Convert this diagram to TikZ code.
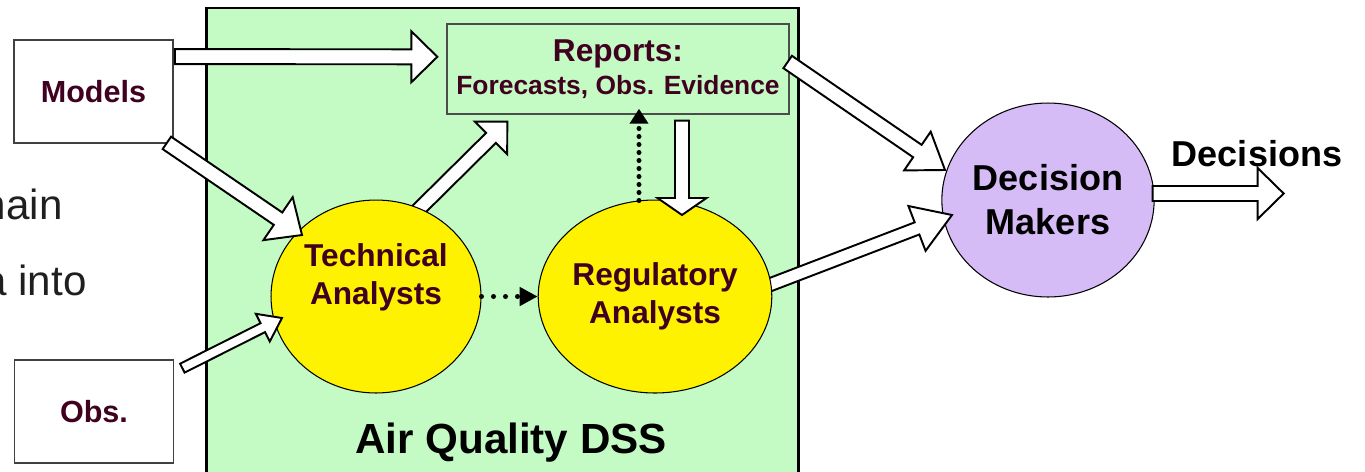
\documentclass[tikz,border=0pt]{standalone}
\usepackage{fontspec}
\setmainfont{Liberation Sans}
\usetikzlibrary{calc,arrows.meta,shapes.geometric}

\definecolor{dssgreen}{RGB}{196,250,196}
\definecolor{dmpurple}{RGB}{214,188,246}
\definecolor{txtred}{RGB}{64,0,32}

\pgfdeclarelayer{bg}
\pgfdeclarelayer{under}
\pgfsetlayers{bg,under,main}

% block arrow: from, to, half shaft, half head, head length
\newcommand{\fatarrow}[5]{%
\coordinate (fa-h) at ($(#2)!#5!(#1)$);
\draw [fatarrow] ($(#1)!#3!90:(#2)$) -- ($(fa-h)!#3!90:(#2)$) -- ($(fa-h)!#4!90:(#2)$) -- (#2)
	-- ($(fa-h)!#4!-90:(#2)$) -- ($(fa-h)!#3!-90:(#2)$) -- ($(#1)!#3!-90:(#2)$) -- cycle;
}

\begin{document}
\begin{tikzpicture}[x = 0.02cm, y = -0.02cm,
srcbox/.style={ rectangle, draw = black!75, line width = 1pt, fill = white, minimum width = 3.18cm, minimum height = 2.06cm, text = txtred, font = \fontsize{17.4}{20}\selectfont\bfseries },
analyst/.style={ ellipse, draw, line width = 0.6pt, fill = yellow, minimum height = 3.86cm, inner sep = 0pt },
analysttxt/.style={ align = center, text = txtred, font = \fontsize{18}{21.5}\selectfont\bfseries },
bigtxt/.style={ align = center, font = \fontsize{20.5}{25}\selectfont\bfseries },
fatarrow/.style={ draw, line width = 1.1pt, fill = white, line join = miter },
dotarrow/.style={ line width = 0.1cm, dash pattern = on 0pt off 0.16cm, line cap = round },
cutoff/.style={ anchor = base east, inner sep = 0pt, text = black!88, font = \fontsize{24}{28}\selectfont }]

\useasboundingbox (0,0) rectangle (1365,471);

%the DSS panel
\begin{pgfonlayer}{bg}
\node (dss) [rectangle, draw, line width = 1.3pt, fill = dssgreen, minimum width = 11.84cm, minimum height = 9.8cm, anchor = north] at (502.5,7) {};
\end{pgfonlayer}
\node (dsstitle) [font = \fontsize{24}{28}\selectfont\bfseries] at (511,443) {Air Quality DSS};

%slide text behind
\node (cut1) [cutoff] at (63,219) {nain};
\node (cut2) [cutoff] at (87,295) {a into};

\node (models) [srcbox] at (93.5,91.5) {Models};
\node (obs) [srcbox] at (94,411.5) {Obs.};

\node (reports) [rectangle, draw = black!70, line width = 0.8pt, minimum width = 6.84cm, minimum height = 1.8cm, align = center, text = txtred, font = \fontsize{18}{18.8}\selectfont\bfseries] at (618,69)
	{Reports:\\{\fontsize{15}{18.8}\selectfont Forecasts, Obs. Evidence}};

\node (tech) [analyst, minimum width = 4.2cm] at (376,296.5) {};
\node (techtxt) [analysttxt] at ($(tech)+(0,-19)$) {Technical\\Analysts};
\node (reg) [analyst, analysttxt, minimum width = 4.48cm] at (655,296.5) {Regulatory\\Analysts};

%arrows leaving the ellipses run underneath them
\begin{pgfonlayer}{under}
\node (dm) [ellipse, draw, line width = 0.6pt, fill = dmpurple, minimum width = 4.24cm, minimum height = 3.88cm, inner sep = 0pt, bigtxt] at (1048,200) {Decision\\Makers};
\coordinate (t-out) at ($(tech)+(34,-78.5)$);
\coordinate (r-in2) at ($(reports.south west)+(61,7)$);
\fatarrow{t-out}{r-in2}{0.14cm}{0.46cm}{0.46cm}
\coordinate (g-out) at ($(reg)+(100,-6)$);
\coordinate (d-in2) at ($(dm)+(-96,15)$);
\fatarrow{g-out}{d-in2}{0.13cm}{0.48cm}{0.75cm}
\end{pgfonlayer}

\node (dectxt) [bigtxt] at (1257,154) {Decisions};

%block arrows
\coordinate (m-out) at ($(models.north east)+(1,17.5)$);
\coordinate (r-in1) at ($(reports.north west)+(-9,33.5)$);
\fatarrow{m-out}{r-in1}{0.15cm}{0.51cm}{0.52cm}

\coordinate (m-out2) at ($(models.south east)+(-7,-1)$);
\coordinate (t-in1) at ($(tech)+(-74,-61.5)$);
\fatarrow{m-out2}{t-in1}{0.15cm}{0.52cm}{0.58cm}

\coordinate (o-out) at ($(obs.north east)+(8,9)$);
\coordinate (t-in2) at ($(tech)+(-94,21.5)$);
\fatarrow{o-out}{t-in2}{0.10cm}{0.31cm}{0.43cm}

\coordinate (r-out) at ($(reports.south)+(64,6)$);
\coordinate (g-in) at ($(reg)+(27,-81.5)$);
\fatarrow{r-out}{g-in}{0.14cm}{0.49cm}{0.34cm}

\coordinate (r-out2) at ($(reports.east)+(-2,-7)$);
\coordinate (d-in1) at ($(dm)+(-103,-30)$);
\fatarrow{r-out2}{d-in1}{0.15cm}{0.47cm}{0.67cm}

\coordinate (d-out) at ($(dm.east)+(-2,-6.5)$);
\coordinate (dec-end) at ($(dm.east)+(129,-6.5)$);
\fatarrow{d-out}{dec-end}{0.15cm}{0.51cm}{0.52cm}

%dotted hand-overs
\draw [dotarrow, -{Triangle[length = 0.36cm, width = 0.36cm]}, dash pattern = on 0pt off 0.24cm] (tech.east) -- (reg.west);
\draw [dotarrow, -{Triangle[length = 0.3cm, width = 0.36cm]}] ($(reg.north)+(-16,1)$) -- ($(reports.south)+(21,-6)$);

\end{tikzpicture}
\end{document}
